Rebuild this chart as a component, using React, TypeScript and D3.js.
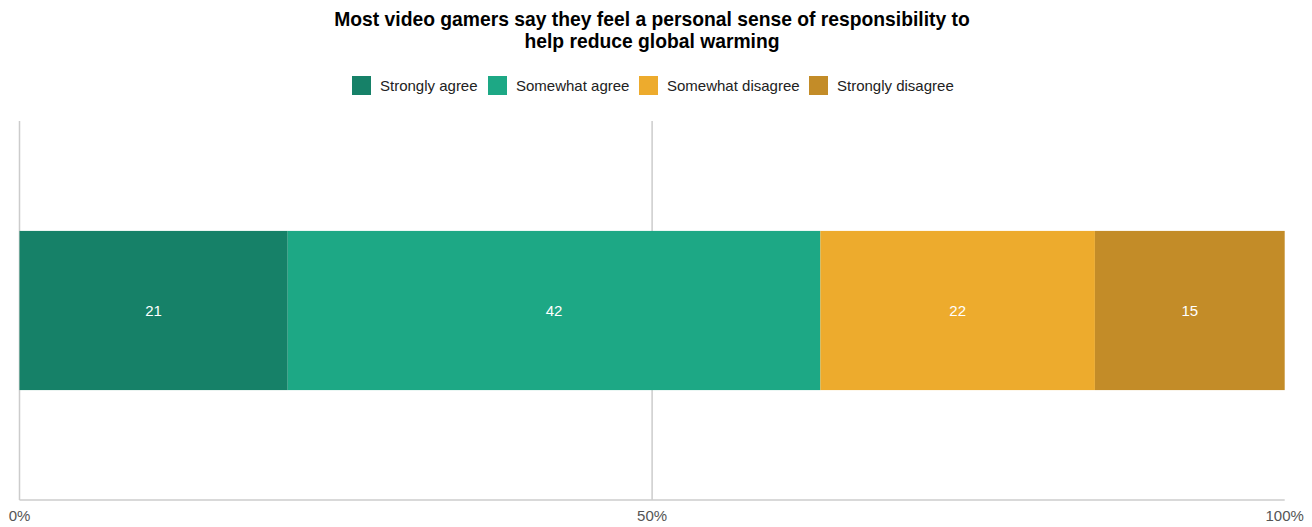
import React from "react";
import * as d3 from "d3";

const categories = ["Strongly agree", "Somewhat agree", "Somewhat disagree", "Strongly disagree"];
const values = [21.2, 42.1, 21.7, 15.0];
const labels = ["21", "42", "22", "15"];
const colors = ["#168168", "#1da885", "#edab2d", "#c38c28"];
const ticks = [0, 50, 100];
const gridTicks = [0, 50];
const titleLines = [
  "Most video gamers say they feel a personal sense of responsibility to",
  "help reduce global warming",
];
const legendX = [352, 488, 639, 809];

export default function App() {
  const W = 1312, H = 527;
  const left = 19.5, right = 1284.7, top = 121, bottom = 500;
  const x = d3.scaleLinear().domain([0, 100]).range([left, right]);
  const y = d3.scaleBand().domain(["row"]).range([top, bottom]).paddingInner(0.58).paddingOuter(0.29);
  const stacked = d3.stack<any>().keys(categories)([
    Object.fromEntries(categories.map((c, i) => [c, values[i]])),
  ]);
  const font = "'Liberation Sans', Arial, sans-serif";
  const by = y("row")!;
  const bh = y.bandwidth();
  return (
    <svg width={W} height={H} style={{ position: "absolute", left: 0, top: 0, fontFamily: font }}>
      <rect width={W} height={H} fill="#fff" />
      {titleLines.map((t, i) => (
        <text key={i} x={652} y={26 + i * 22} textAnchor="middle" fontSize={19.3} fontWeight="bold" fill="#000">
          {t}
        </text>
      ))}
      {categories.map((c, i) => (
        <g key={c}>
          <rect x={legendX[i]} y={76} width={19} height={19} fill={colors[i]} />
          <text x={legendX[i] + 28} y={91} fontSize={15} fill="#222">{c}</text>
        </g>
      ))}
      {gridTicks.map((t) => (
        <line key={t} x1={x(t)} x2={x(t)} y1={top} y2={bottom} stroke="#ccc" strokeWidth={1.5} />
      ))}
      <line x1={left} x2={right} y1={bottom} y2={bottom} stroke="#ccc" strokeWidth={1.5} />
      {stacked.map((s, i) => {
        const d = s[0];
        return (
          <g key={s.key}>
            <rect x={x(d[0])} y={by} width={x(d[1]) - x(d[0])} height={bh} fill={colors[i]} />
            <text
              x={(x(d[0]) + x(d[1])) / 2}
              y={by + bh / 2 + 5.5}
              textAnchor="middle"
              fontSize={15}
              fill="#fff"
            >
              {labels[i]}
            </text>
          </g>
        );
      })}
      {ticks.map((t) => (
        <text key={t} x={x(t)} y={521} textAnchor="middle" fontSize={15} fill="#555">
          {t}%
        </text>
      ))}
    </svg>
  );
}
